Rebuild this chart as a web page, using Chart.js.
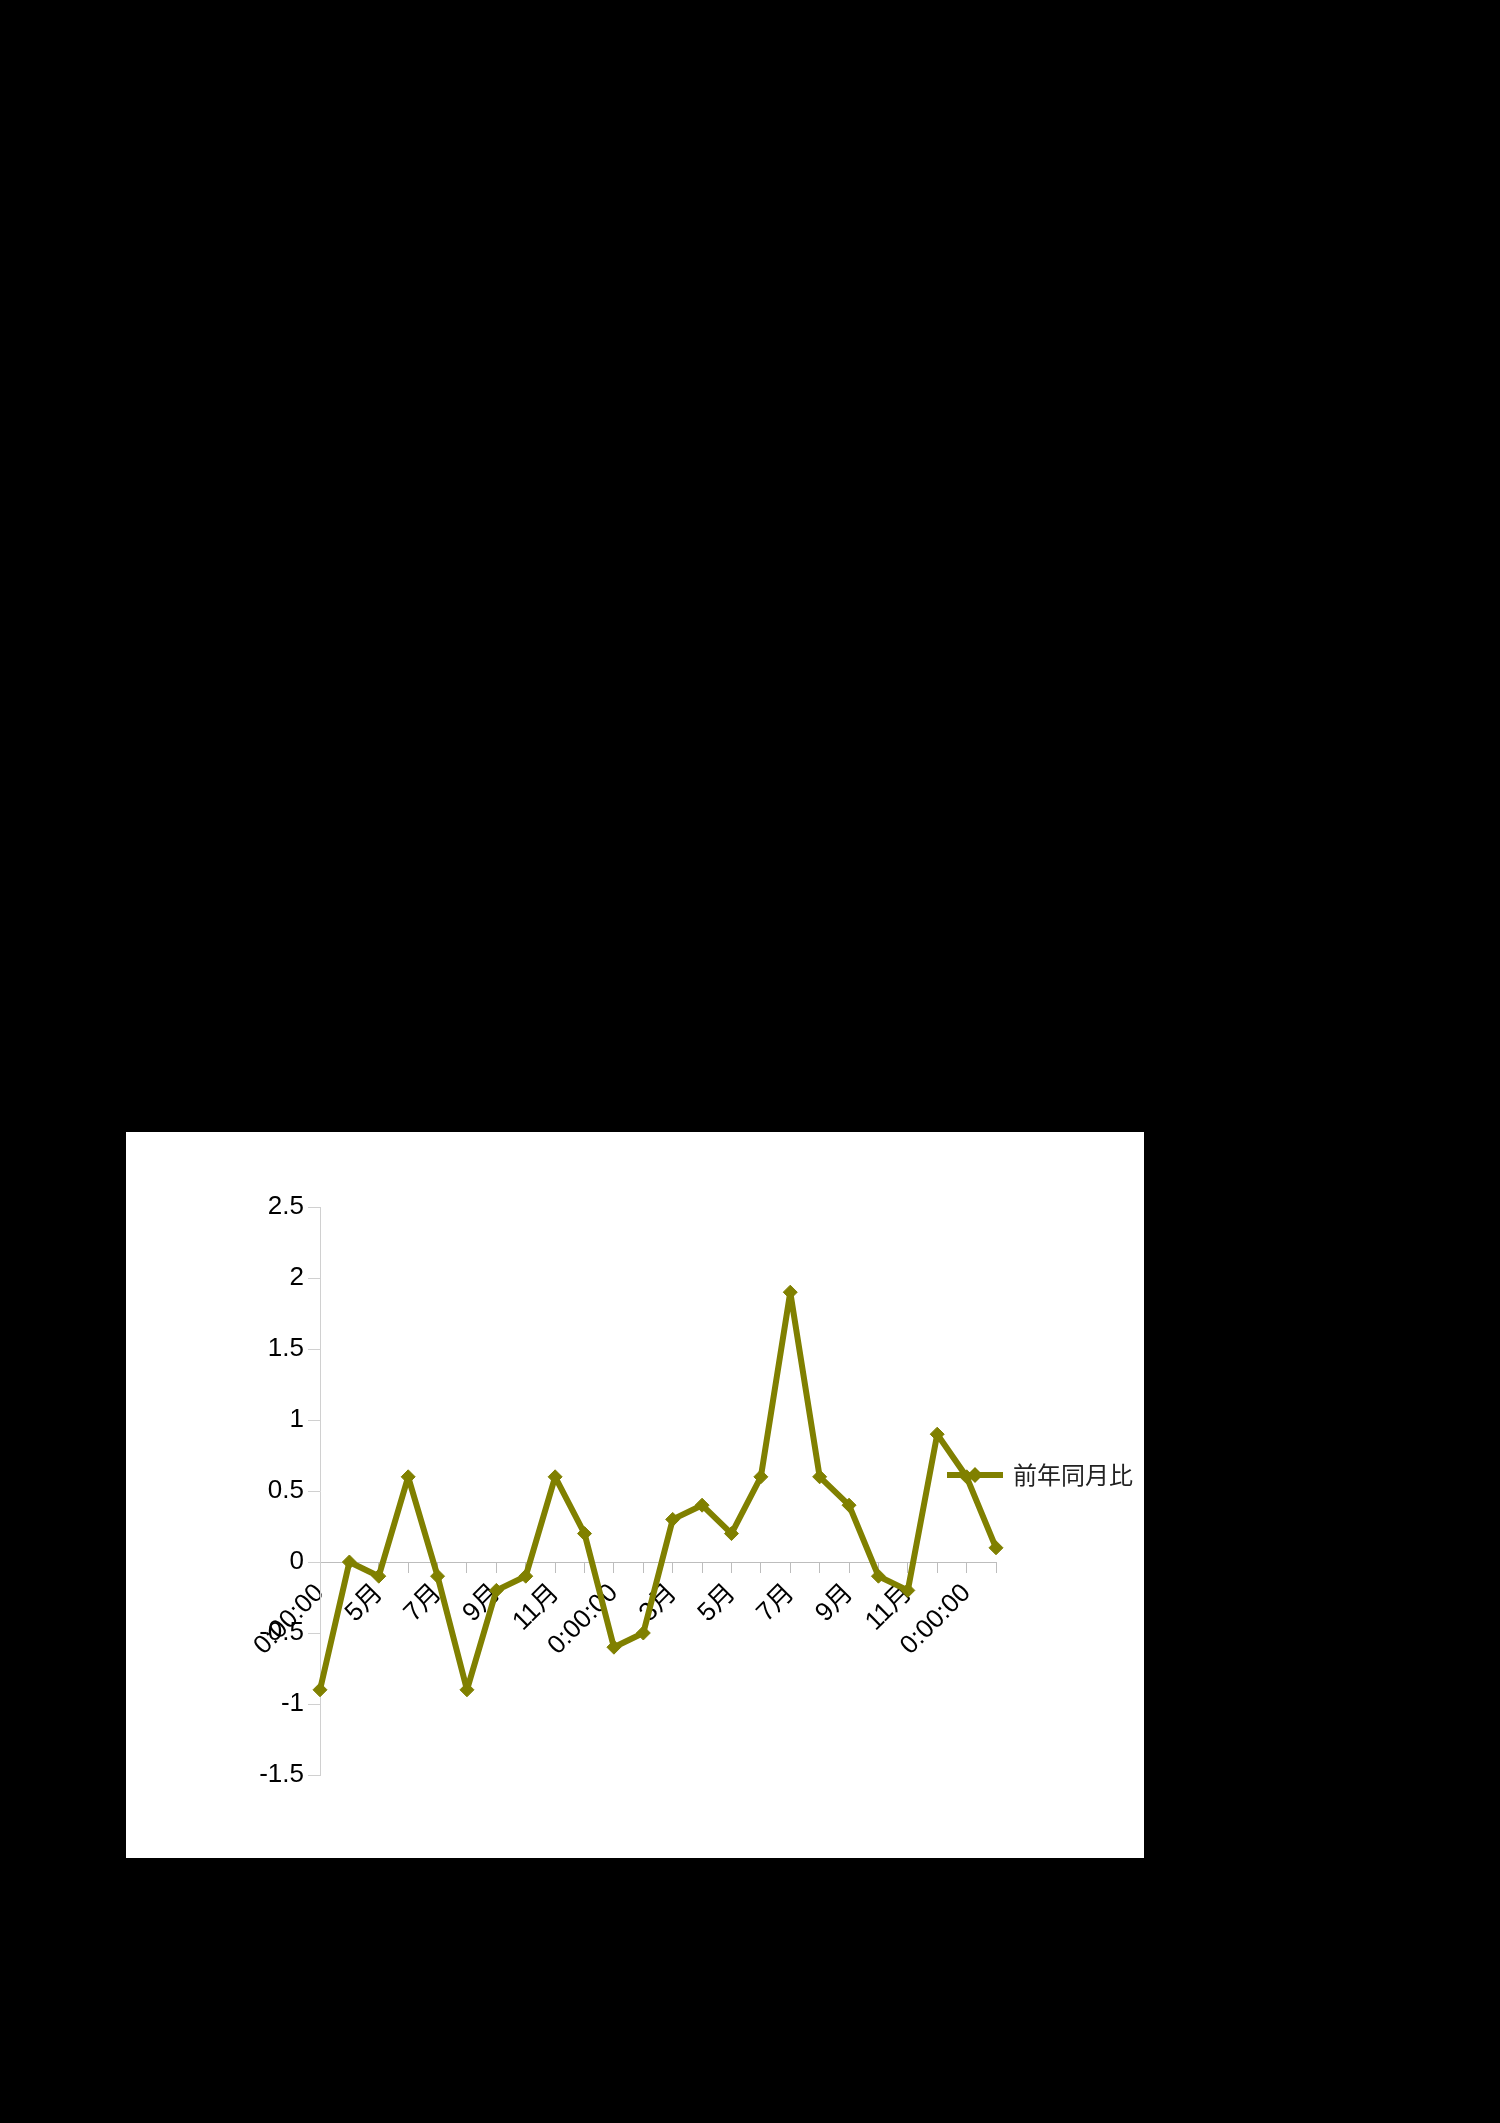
<!DOCTYPE html>
<html>
<head>
<meta charset="utf-8">
<script src="https://cdn.jsdelivr.net/npm/chart.js@4"></script>
<style>
  html, body { margin: 0; padding: 0; background: #000; }
  body { width: 1500px; height: 2123px; position: relative; }
  #box { position: absolute; left: 126px; top: 1132px; width: 1018px; height: 726px; background: #fff; }
  canvas { display: block; }
</style>
</head>
<body>
<div id="box"><canvas id="c"></canvas></div>
<script>
const categories = ['0:00:00','','5月','','7月','','9月','','11月','','0:00:00','','3月','','5月','','7月','','9月','','11月','','0:00:00',''];
const seriesName = '前年同月比';
const seriesValues = [-0.9, 0, -0.1, 0.6, -0.1, -0.9, -0.2, -0.1, 0.6, 0.2, -0.6, -0.5, 0.3, 0.4, 0.2, 0.6, 1.9, 0.6, 0.4, -0.1, -0.2, 0.9, 0.6, 0.1];
const yMin = -1.5, yMax = 2.5, yStep = 0.5;

const OLIVE = '#808000';
Chart.defaults.font.family = "'Liberation Sans', Arial, 'Noto Sans CJK JP', sans-serif";
Chart.defaults.font.size = 26;
Chart.defaults.color = '#000';

const legendPlugin = {
  id: 'sideLegend',
  afterDraw(chart) {
    const ctx = chart.ctx;
    const ca = chart.chartArea;
    const ds = chart.data.datasets[0];
    const y = (ca.top + ca.bottom) / 2 - 16;
    const x0 = ca.right - 49, x1 = ca.right + 7;
    ctx.save();
    ctx.strokeStyle = ds.borderColor;
    ctx.lineWidth = ds.borderWidth;
    ctx.beginPath(); ctx.moveTo(x0, y); ctx.lineTo(x1, y); ctx.stroke();
    const cx = (x0 + x1) / 2, r = 8;
    ctx.fillStyle = ds.pointBackgroundColor;
    ctx.beginPath();
    ctx.moveTo(cx, y - r); ctx.lineTo(cx + r, y); ctx.lineTo(cx, y + r); ctx.lineTo(cx - r, y); ctx.closePath();
    ctx.fill();
    ctx.fillStyle = '#222';
    ctx.font = "24px 'Noto Sans CJK JP', sans-serif";
    ctx.textBaseline = 'middle';
    ctx.textAlign = 'left';
    ctx.fillText(ds.label, x1 + 10, y);
    ctx.restore();
  }
};

new Chart(document.getElementById('c'), {
  type: 'line',
  data: {
    labels: categories,
    datasets: [{
      label: seriesName,
      data: seriesValues,
      borderColor: OLIVE,
      backgroundColor: OLIVE,
      pointBackgroundColor: OLIVE,
      pointBorderColor: OLIVE,
      borderWidth: 6,
      borderJoinStyle: 'round',
      borderCapStyle: 'round',
      pointStyle: 'rectRot',
      pointRadius: 7,
      pointBorderWidth: 1,
      tension: 0,
      fill: false
    }]
  },
  options: {
    responsive: true,
    maintainAspectRatio: false,
    animation: false,
    events: [],
    layout: { padding: { left: 94, right: 148, top: 75, bottom: 83 } },
    plugins: { legend: { display: false }, tooltip: { enabled: false } },
    scales: {
      x: {
        position: { y: 0 },
        offset: false,
        grid: { display: true, drawOnChartArea: false, drawTicks: true, tickLength: 10, color: '#bdbdbd', lineWidth: 1 },
        border: { display: true, color: '#bdbdbd', width: 1 },
        ticks: { autoSkip: false, maxRotation: 45, minRotation: 45, padding: 6, font: { size: 26 }, color: '#000' }
      },
      y: {
        min: yMin, max: yMax,
        afterFit(scale) { scale.width = 100; },
        grid: { display: true, drawOnChartArea: false, drawTicks: true, tickLength: 12, color: '#d0d0d0', lineWidth: 1 },
        border: { display: true, color: '#d0d0d0', width: 1 },
        ticks: { stepSize: yStep, padding: 4, font: { size: 26 }, color: '#000',
          callback: (v) => String(Number(Number(v).toFixed(1))) }
      }
    }
  },
  plugins: [legendPlugin]
});
</script>
</body>
</html>
